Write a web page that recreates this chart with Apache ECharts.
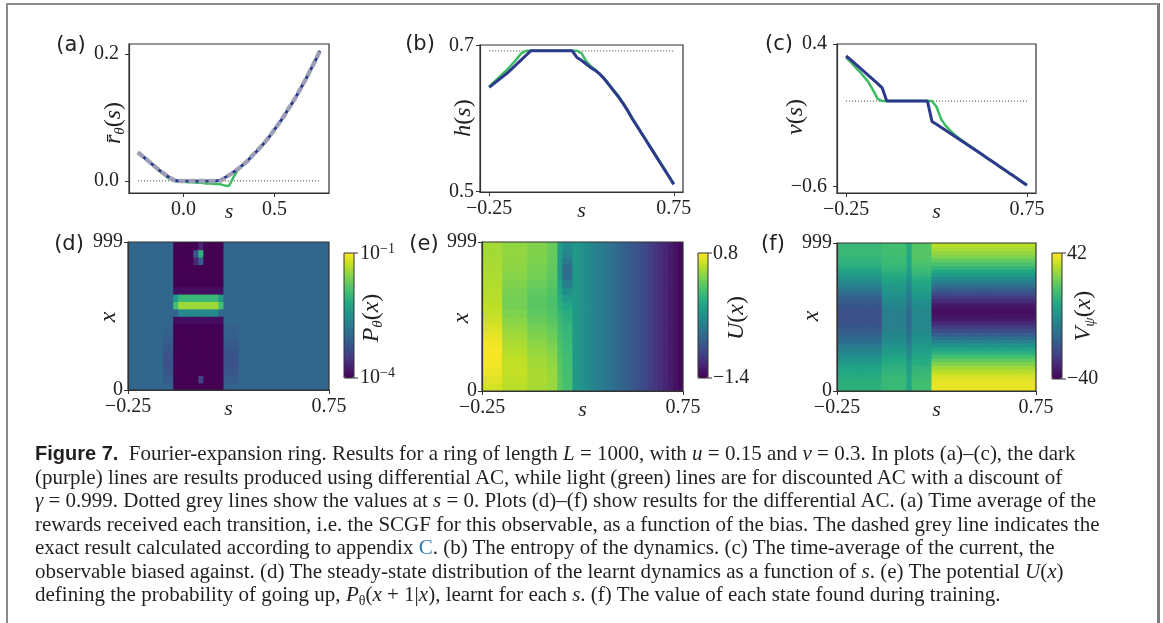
<!DOCTYPE html>
<html>
<head>
<meta charset="utf-8">
<script src="https://cdn.jsdelivr.net/npm/echarts@6/dist/echarts.min.js"></script>
<style>
  html, body { margin: 0; padding: 0; background: #fff; }
  #wrap { position: relative; width: 1163px; height: 623px; overflow: hidden; }
  #chart { position: absolute; left: 0; top: 0; width: 1163px; height: 623px; }
  #frame { position: absolute; left: 6px; top: 3px; width: 1149px; height: 700px;
    border-top: 2px solid #8c8c8c; border-left: 2px solid #8c8c8c; border-right: 3px solid #7d7d7d; }
  #caption { position: absolute; left: 35px; top: 442px; font: 21px/23.5px "Liberation Serif", serif;
    color: #231f20; white-space: nowrap; }
  #caption .fig { font: bold 20px "Liberation Sans", sans-serif; }
  #caption a { color: #2a7ab8; text-decoration: none; }
  #caption sub { font-size: 14px; line-height: 0; vertical-align: -4px; }
</style>
</head>
<body>
<div id="wrap">
  <div id="frame"></div>
  <div id="chart"></div>
  <div id="caption">
    <div><b class="fig">Figure 7.</b>&nbsp;&nbsp;Fourier-expansion ring. Results for a ring of length <i>L</i> = 1000, with <i>u</i> = 0.15 and <i>v</i> = 0.3. In plots (a)–(c), the dark</div>
    <div>(purple) lines are results produced using differential AC, while light (green) lines are for discounted AC with a discount of</div>
    <div><i>γ</i> = 0.999. Dotted grey lines show the values at <i>s</i> = 0. Plots (d)–(f) show results for the differential AC. (a) Time average of the</div>
    <div>rewards received each transition, i.e. the SCGF for this observable, as a function of the bias. The dashed grey line indicates the</div>
    <div>exact result calculated according to appendix <a>C</a>. (b) The entropy of the dynamics. (c) The time-average of the current, the</div>
    <div>observable biased against. (d) The steady-state distribution of the learnt dynamics as a function of <i>s</i>. (e) The potential <i>U</i>(<i>x</i>)</div>
    <div>defining the probability of going up, <i>P</i><sub>θ</sub>(<i>x</i> + 1|<i>x</i>), learnt for each <i>s</i>. (f) The value of each state found during training.</div>
  </div>
</div>
<script>
// bias values s where the agents were trained
const sGrid = [-0.25, -0.225, -0.2, -0.175, -0.15, -0.125, -0.1, -0.075, -0.05, -0.025,
  0, 0.025, 0.05, 0.075, 0.1, 0.125, 0.15, 0.175, 0.2, 0.225, 0.25, 0.275, 0.3, 0.325,
  0.35, 0.375, 0.4, 0.425, 0.45, 0.475, 0.5, 0.525, 0.55, 0.575, 0.6, 0.625, 0.65, 0.675,
  0.7, 0.725, 0.75];
const refS = [-0.25, 0.75];

// (a) SCGF
const aExact = [0.045, 0.039, 0.033, 0.027, 0.021, 0.015, 0.010, 0.005, 0.001, 0.000,
  0, 0, 0, 0, 0, 0, 0, 0, 0,
  0.004, 0.009, 0.014, 0.019, 0.025, 0.031, 0.039, 0.046, 0.054, 0.062, 0.071, 0.081,
  0.091, 0.101, 0.113, 0.124, 0.136, 0.149, 0.162, 0.176, 0.190, 0.205];
const aDiff = [0.045, 0.039, 0.033, 0.027, 0.021, 0.015, 0.010, 0.005, 0.001, 0.000,
  0, 0, 0, 0, 0, 0, 0, 0, 0.001,
  0.005, 0.009, 0.014, 0.019, 0.025, 0.031, 0.039, 0.046, 0.054, 0.062, 0.071, 0.081,
  0.091, 0.101, 0.113, 0.124, 0.136, 0.149, 0.162, 0.176, 0.190, 0.205];
const aDisc = [0.045, 0.039, 0.033, 0.027, 0.020, 0.014, 0.008, 0.003, 0.000, -0.001,
  -0.001, -0.002, -0.002, -0.003, -0.003, -0.004, -0.004, -0.005, -0.005,
  -0.007, -0.008, 0.006, 0.018, 0.025, 0.031, 0.039, 0.046, 0.054, 0.062, 0.071, 0.081,
  0.091, 0.101, 0.113, 0.124, 0.136, 0.149, 0.162, 0.176, 0.190, 0.205];
const aRef = [0, 0];

// (b) entropy
const bDiff = [0.643, 0.648, 0.653, 0.658, 0.663, 0.669, 0.675, 0.681, 0.687, 0.693,
  0.693, 0.693, 0.693, 0.693, 0.693, 0.693, 0.693, 0.693, 0.693,
  0.684, 0.680, 0.675, 0.670, 0.666, 0.661, 0.654, 0.646, 0.638, 0.630, 0.621, 0.611,
  0.600, 0.590, 0.580, 0.570, 0.560, 0.550, 0.540, 0.530, 0.520, 0.510];
const bDisc = [0.644, 0.650, 0.656, 0.662, 0.668, 0.675, 0.682, 0.690, 0.693, 0.693,
  0.693, 0.693, 0.693, 0.693, 0.693, 0.693, 0.693, 0.693, 0.693,
  0.693, 0.690, 0.679, 0.672, 0.667, 0.661, 0.655, 0.647, 0.639, 0.631, 0.622, 0.612,
  0.601, 0.591, 0.581, 0.571, 0.561, 0.551, 0.541, 0.531, 0.521, 0.511];
const bRef = [0.693, 0.693];

// (c) current
const cDiff = [0.316, 0.290, 0.262, 0.234, 0.206, 0.178, 0.150, 0.122, 0.092, 0.000,
  0, 0, 0, 0, 0, 0, 0, 0, 0,
  -0.143, -0.163, -0.184, -0.205, -0.226, -0.247, -0.267, -0.288, -0.309, -0.330, -0.352, -0.373,
  -0.395, -0.416, -0.438, -0.460, -0.481, -0.503, -0.524, -0.546, -0.568, -0.590];
const cDisc = [0.307, 0.274, 0.240, 0.207, 0.170, 0.130, 0.075, 0.015, 0.000, 0.000,
  0, 0, 0, 0, 0, 0, 0, 0, 0,
  0.000, -0.040, -0.125, -0.172, -0.205, -0.235, -0.260, -0.284, -0.306, -0.328, -0.350, -0.371,
  -0.393, -0.414, -0.436, -0.458, -0.479, -0.501, -0.522, -0.544, -0.566, -0.588];
const cRef = [0, 0];

// heatmaps: 40 cells in s (-0.25..0.75); x cells listed bottom (x=0) -> top (x=999)

// (d) log10 P(x), 20 cells in x
const dOut = [-3, -3, -3, -3, -3, -3, -3, -3, -3, -3, -3, -3, -3, -3, -3, -3, -3, -3, -3, -3];
const dGlow = [-3.05, -3.15, -3.2, -3.25, -3.25, -3.2, -3.15, -3.1, -3.05, -3, -3, -3, -3, -3, -3, -3, -3, -3, -3, -3];
const dBand = [-4, -4, -4, -4, -4, -4, -4, -4, -4, -3.9, -2.6, -1.45, -2.0, -3.9, -4, -4, -4, -4, -4, -4];
const dEdge = [-4, -4, -4, -4, -4, -4, -4, -4, -4, -3.9, -3.0, -1.9, -2.4, -3.9, -4, -4, -4, -4, -4, -4];
const dSpot = [-4, -3.4, -4, -4, -4, -4, -4, -4, -4, -3.9, -2.6, -1.45, -2.0, -3.9, -4, -4, -4, -3.1, -2.1, -3.7];
const dSpotFaint = [-4, -4, -4, -4, -4, -4, -4, -4, -4, -3.9, -2.6, -1.45, -2.0, -3.9, -4, -4, -4, -3.7, -3.2, -4];

// (e) U(x), 20 cells in x
const eA = [0.66, 0.70, 0.73, 0.76, 0.78, 0.78, 0.76, 0.72, 0.68, 0.64, 0.60, 0.58, 0.56, 0.55, 0.54, 0.53, 0.52, 0.51, 0.50, 0.50];
const eB = [0.56, 0.58, 0.60, 0.60, 0.58, 0.55, 0.52, 0.49, 0.45, 0.41, 0.37, 0.34, 0.33, 0.35, 0.38, 0.40, 0.42, 0.43, 0.44, 0.44];
const eC = [0.50, 0.52, 0.52, 0.50, 0.48, 0.45, 0.42, 0.38, 0.34, 0.29, 0.25, 0.23, 0.23, 0.26, 0.30, 0.33, 0.35, 0.37, 0.38, 0.38];
const eD = [0.46, 0.47, 0.46, 0.44, 0.42, 0.39, 0.35, 0.31, 0.27, 0.23, 0.19, 0.17, 0.17, 0.19, 0.22, 0.24, 0.26, 0.27, 0.28, 0.28];
const eE = [0.24, 0.24, 0.23, 0.22, 0.20, 0.18, 0.16, 0.14, 0.12, 0.09, 0.05, 0.00, -0.05, -0.10, -0.15, -0.20, -0.22, -0.22, -0.20, -0.18];
const eF = [0.15, 0.15, 0.14, 0.13, 0.12, 0.10, 0.08, 0.06, 0.04, 0.01, -0.03, -0.10, -0.20, -0.33, -0.48, -0.62, -0.64, -0.52, -0.40, -0.34];
// s >= 0.2: same value for every x, one per s cell
const eRight = [-0.22, -0.27, -0.32, -0.37, -0.42, -0.47, -0.52, -0.57, -0.62, -0.67, -0.72,
  -0.77, -0.82, -0.87, -0.93, -0.99, -1.05, -1.11, -1.17, -1.23, -1.29, -1.35];

// (f) V(x), 40 cells in x
const fLeft = [12, 12, 12, 11, 10, 9, 7, 5, 3, 0, -2, -5, -7, -10, -12, -14, -16, -18, -19, -20,
  -20, -20, -19, -18, -16, -14, -11, -8, -5, -2, 1, 4, 7, 10, 12, 13, 14, 15, 15, 15];
const fMid = [15, 15, 15, 15, 14, 13, 12, 11, 9, 7, 5, 3, 1, -1, -2, -3, -4, -5, -5, -5,
  -5, -5, -4, -3, -2, 0, 1, 3, 4, 6, 8, 10, 12, 14, 15, 16, 16, 17, 17, 17];
const fLine = [8, 8, 8, 8, 7, 6, 5, 4, 2, 0, -2, -4, -6, -8, -9, -10, -11, -12, -12, -12,
  -12, -12, -11, -10, -9, -7, -6, -4, -3, -1, 1, 3, 5, 7, 8, 9, 9, 10, 10, 10];
const fMid2 = [17, 17, 17, 16, 15, 14, 13, 11, 10, 8, 7, 5, 4, 2, 1, 0, -1, -2, -2, -2,
  -2, -2, -1, 0, 1, 3, 4, 6, 7, 9, 11, 13, 15, 17, 18, 19, 20, 20, 20, 20];
const fRight = [40, 39, 39, 38, 36, 33, 30, 26, 22, 17, 12, 7, 2, -4, -10, -16, -21, -26, -30, -34,
  -36, -37, -36, -34, -30, -26, -21, -16, -11, -6, -1, 4, 9, 14, 18, 22, 26, 29, 31, 33];

const rep = (p, n) => Array(n).fill(p);
const dColumns = [].concat(rep(dOut, 7), rep(dGlow, 2), [dEdge], rep(dBand, 3), [dSpotFaint, dSpot],
  rep(dBand, 3), [dEdge], rep(dGlow, 3), rep(dOut, 18));
const eColumns = [].concat(rep(eA, 4), rep(eB, 5), rep(eC, 4), rep(eD, 2), [eE], rep(eF, 2), eRight);
const fColumns = [].concat(rep(fLeft, 9), rep(fMid, 5), [fLine], rep(fMid2, 4), rep(fRight, 21));

const sMin = -0.25, sMax = 0.75, xMax = 999;

// each cell as [s centre, x centre, value]
function cells(columns, rows) {
  const ds = (sMax - sMin) / columns.length, dx = xMax / rows;
  const out = [];
  columns.forEach((p, c) => {
    for (let r = 0; r < rows; r++) {
      out.push([sMin + (c + 0.5) * ds, (r + 0.5) * dx, typeof p === 'number' ? p : p[r]]);
    }
  });
  return out;
}
const pairs = (xs, ys) => xs.map((x, i) => [x, ys[i]]);

const serif = '"Liberation Serif", "DejaVu Serif", serif';
const sans = '"DejaVu Sans", "Liberation Sans", sans-serif';
const ink = '#222';
const navy = '#2d3a8c';
const green = '#3dbb63';
const viridis = ['#440154', '#482475', '#414487', '#355f8d', '#2a788e', '#21918c',
  '#22a884', '#44bf70', '#7ad151', '#bddf26', '#fde725'];

const fmt = d => v => (v < 0 ? '\u2212' : '') + Math.abs(v).toFixed(d);

function xValue(grid, min, max, ticks, digits) {
  return {
    type: 'value', gridIndex: grid, min: min, max: max, position: 'bottom', z: 6,
    splitLine: { show: false },
    axisLine: { show: true, onZero: false, lineStyle: { color: '#333', width: 1.2 } },
    axisTick: { show: true, customValues: ticks, length: 4, lineStyle: { color: '#333' } },
    axisLabel: { customValues: ticks, formatter: fmt(digits), margin: 7, color: ink, fontFamily: serif, fontSize: 20 },
    name: 's', nameLocation: 'middle', nameGap: 8, nameMoveOverlap: false,
    nameTextStyle: { fontFamily: serif, fontStyle: 'italic', fontSize: 22, color: ink }
  };
}
function yValue(grid, min, max, ticks, digits, margin) {
  return {
    type: 'value', gridIndex: grid, min: min, max: max, position: 'left', z: 6,
    splitLine: { show: false },
    axisLine: { show: true, onZero: false, lineStyle: { color: '#333', width: 1.2 } },
    axisTick: { show: true, customValues: ticks, length: 4, lineStyle: { color: '#333' } },
    axisLabel: { customValues: ticks, formatter: fmt(digits), margin: margin, color: ink, fontFamily: serif, fontSize: 20 }
  };
}

function line(axis, xs, ys, color, width, type) {
  return {
    type: 'line', xAxisIndex: axis, yAxisIndex: axis, data: pairs(xs, ys),
    showSymbol: false, symbol: 'none', silent: true,
    lineStyle: { color: color, width: width, type: type || 'solid' }, itemStyle: { color: color }
  };
}
// heatmap cells drawn through the axes, slightly overlapped so no seams show
function heat(axis, columns, rows) {
  const hs = (sMax - sMin) / columns.length / 2, hx = xMax / rows / 2;
  return {
    type: 'custom', xAxisIndex: axis, yAxisIndex: axis, data: cells(columns, rows),
    silent: true, clip: true, encode: { x: 0, y: 1 },
    renderItem: function (params, api) {
      const s = api.value(0), x = api.value(1);
      const p0 = api.coord([s - hs, x - hx]);
      const p1 = api.coord([s + hs, x + hx]);
      return {
        type: 'rect',
        shape: { x: p0[0], y: p1[1], width: p1[0] - p0[0] + 0.8, height: p0[1] - p1[1] + 0.8 },
        style: { fill: api.visual('color') }
      };
    }
  };
}
function colorbar(series, min, max, left, top, height) {
  return {
    type: 'continuous', seriesIndex: series, dimension: 2, min: min, max: max, orient: 'vertical',
    left: left, top: top, itemWidth: 10, itemHeight: height, padding: 0,
    calculable: false, hoverLink: false, inRange: { color: viridis }
  };
}

const mathRich = {
  i: { fontFamily: serif, fontStyle: 'italic', fontSize: 24, lineHeight: 28, verticalAlign: 'middle', fill: ink },
  n: { fontFamily: serif, fontSize: 24, lineHeight: 28, verticalAlign: 'middle', fill: ink },
  t: { fontFamily: serif, fontSize: 20, lineHeight: 24, verticalAlign: 'middle', fill: ink },
  sub: { fontFamily: serif, fontStyle: 'italic', fontSize: 15, lineHeight: 13, verticalAlign: 'bottom', fill: ink },
  sup: { fontFamily: serif, fontSize: 14, lineHeight: 13, verticalAlign: 'top', fill: ink }
};
function math(x, y, text, rotate, align) {
  return {
    type: 'text', x: x, y: y, rotation: rotate ? Math.PI / 2 : 0, z: 50, silent: true,
    style: { text: text, rich: mathRich, align: align || 'center', verticalAlign: 'middle' }
  };
}
function panel(x, y, text) {
  return {
    type: 'text', x: x, y: y, z: 50, silent: true,
    style: { text: text, font: '21px ' + sans, fill: ink, align: 'center', verticalAlign: 'middle' }
  };
}
function barFrame(x, y, h) {
  return [
    { type: 'rect', z: 60, silent: true, shape: { x: x, y: y, width: 10, height: h },
      style: { fill: 'none', stroke: '#333', lineWidth: 1 } },
    { type: 'line', z: 60, silent: true, shape: { x1: x + 10, y1: y, x2: x + 14, y2: y }, style: { stroke: '#333', lineWidth: 1 } },
    { type: 'line', z: 60, silent: true, shape: { x1: x + 10, y1: y + h, x2: x + 14, y2: y + h }, style: { stroke: '#333', lineWidth: 1 } }
  ];
}

const gridBox = { show: true, borderColor: '#333', borderWidth: 1.2, z: 5, outerBoundsMode: 'none' };
const chart = echarts.init(document.getElementById('chart'));
chart.setOption({
  animation: false,
  textStyle: { fontFamily: serif },
  grid: [
    Object.assign({ left: 129, top: 44, width: 200, height: 149 }, gridBox),
    Object.assign({ left: 480, top: 45, width: 203, height: 147 }, gridBox),
    Object.assign({ left: 837, top: 44, width: 199, height: 149 }, gridBox),
    Object.assign({ left: 128, top: 242, width: 201, height: 148 }, gridBox),
    Object.assign({ left: 482, top: 242, width: 201, height: 149 }, gridBox),
    Object.assign({ left: 837, top: 243, width: 199, height: 148 }, gridBox)
  ],
  xAxis: [
    xValue(0, -0.3, 0.8, [0, 0.5], 1),
    xValue(1, -0.3, 0.8, [-0.25, 0.75], 2),
    xValue(2, -0.3, 0.8, [-0.25, 0.75], 2),
    xValue(3, sMin, sMax, [-0.25, 0.75], 2),
    xValue(4, sMin, sMax, [-0.25, 0.75], 2),
    xValue(5, sMin, sMax, [-0.25, 0.75], 2)
  ],
  yAxis: [
    yValue(0, -0.019, 0.216, [0, 0.2], 1, 10),
    yValue(1, 0.4995, 0.701, [0.5, 0.7], 1, 6),
    yValue(2, -0.644, 0.4, [-0.6, 0.4], 1, 10),
    yValue(3, 0, xMax, [0, 999], 0, 5),
    yValue(4, 0, xMax, [0, 999], 0, 5),
    yValue(5, 0, xMax, [0, 999], 0, 5)
  ],
  visualMap: [
    colorbar(10, -4, -1, 344, 253, 125),
    colorbar(11, -1.4, 0.8, 698, 253, 125),
    colorbar(12, -40, 42, 1052, 253, 126)
  ],
  series: [
    line(0, refS, aRef, '#666', 1.2, [1, 2]),
    line(0, sGrid, aDisc, green, 2.5),
    line(0, sGrid, aDiff, navy, 3),
    line(0, sGrid, aExact, 'rgba(168,168,186,0.9)', 4.5, [7, 3]),
    line(1, refS, bRef, '#666', 1.2, [1, 2]),
    line(1, sGrid, bDisc, green, 2.5),
    line(1, sGrid, bDiff, navy, 3),
    line(2, refS, cRef, '#666', 1.2, [1, 2]),
    line(2, sGrid, cDisc, green, 2.5),
    line(2, sGrid, cDiff, navy, 3),
    heat(3, dColumns, 20),
    heat(4, eColumns, 20),
    heat(5, fColumns, 40)
  ],
  graphic: [
    panel(71, 46, '(a)'), panel(420, 45, '(b)'), panel(779, 45, '(c)'),
    panel(69, 245, '(d)'), panel(424, 245, '(e)'), panel(773, 245, '(f)'),
    math(114, 123, '{i|r\u0304}{sub|θ}{n|(}{i|s}{n|)}', true),
    math(464, 118, '{i|h}{n|(}{i|s}{n|)}', true),
    math(796, 117, '{i|v}{n|(}{i|s}{n|)}', true),
    math(109, 317, '{i|x}', true),
    math(462, 318, '{i|x}', true),
    math(812, 316, '{i|x}', true),
    math(372, 318, '{i|P}{sub|θ}{n|(}{i|x}{n|)}', true),
    math(737, 318, '{i|U}{n|(}{i|x}{n|)}', true),
    math(1084, 316, '{i|V}{sub|ψ}{n|(}{i|x}{n|)}', true),
    math(360, 254, '{t|10}{sup|\u22121}', false, 'left'),
    math(360, 378, '{t|10}{sup|\u22124}', false, 'left'),
    math(713, 254, '{t|0.8}', false, 'left'),
    math(713, 378, '{t|\u22121.4}', false, 'left'),
    math(1067, 254, '{t|42}', false, 'left'),
    math(1067, 379, '{t|\u221240}', false, 'left')
  ].concat(barFrame(344, 253, 125), barFrame(698, 253, 125), barFrame(1052, 253, 126))
});
</script>
</body>
</html>
